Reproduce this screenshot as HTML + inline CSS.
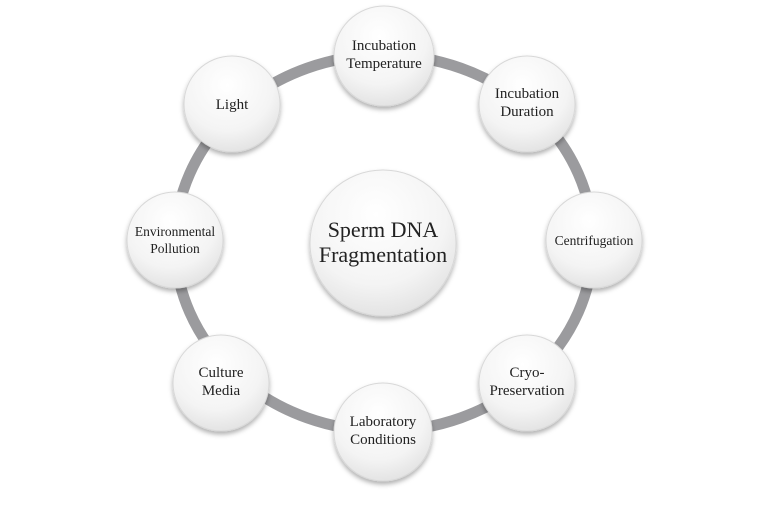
<!DOCTYPE html>
<html><head><meta charset="utf-8"><style>
body{margin:0;background:#fff}
</style></head><body>
<svg width="765" height="510" viewBox="0 0 765 510" xmlns="http://www.w3.org/2000/svg">
<defs>
<radialGradient id="g" cx="0.45" cy="0.3" r="0.8">
<stop offset="0" stop-color="#ffffff"/><stop offset="0.6" stop-color="#f4f4f4"/><stop offset="1" stop-color="#dcdcdc"/>
</radialGradient>
<filter id="s" x="-20%" y="-20%" width="140%" height="150%"><feDropShadow dx="0" dy="3" stdDeviation="2.5" flood-color="#000" flood-opacity="0.3"/></filter>
</defs>
<ellipse cx="384" cy="243" rx="209" ry="188" fill="none" stroke="#9b9b9e" stroke-width="11"/>
<g fill="url(#g)" stroke="#d8d8d8" stroke-width="1" filter="url(#s)">
<circle cx="383" cy="243" r="73"/>
<circle cx="384" cy="56" r="50"/>
<circle cx="527" cy="104" r="48"/>
<circle cx="594" cy="240" r="48"/>
<circle cx="527" cy="383" r="48"/>
<circle cx="383" cy="432" r="49"/>
<circle cx="221" cy="383" r="48"/>
<circle cx="175" cy="240" r="48"/>
<circle cx="232" cy="104" r="48"/>
</g>
<g font-family="Liberation Serif, serif" fill="#222" text-anchor="middle" font-size="15">
<text x="383" y="237" font-size="22">Sperm DNA</text>
<text x="383" y="262" font-size="22">Fragmentation</text>
<text x="384" y="50">Incubation</text><text x="384" y="68">Temperature</text>
<text x="527" y="98">Incubation</text><text x="527" y="116">Duration</text>
<text x="594" y="245" font-size="13.5">Centrifugation</text>
<text x="527" y="377">Cryo-</text><text x="527" y="395">Preservation</text>
<text x="383" y="426">Laboratory</text><text x="383" y="444">Conditions</text>
<text x="221" y="377">Culture</text><text x="221" y="395">Media</text>
<text x="175" y="236" font-size="13.5">Environmental</text><text x="175" y="253" font-size="13.5">Pollution</text>
<text x="232" y="109">Light</text>
</g>
</svg>
</body></html>
